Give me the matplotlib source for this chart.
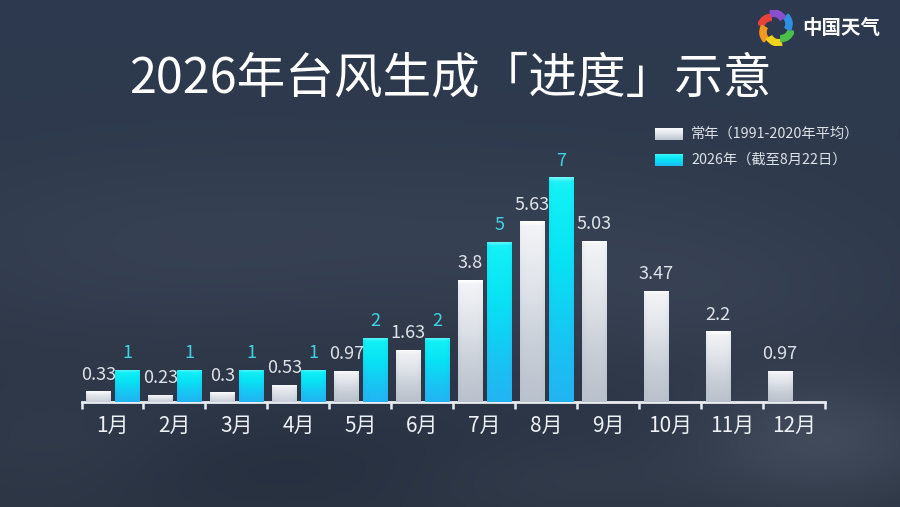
import numpy as np
import matplotlib
matplotlib.use("Agg")
import matplotlib.pyplot as plt
from matplotlib.patches import Wedge
from matplotlib.colors import LinearSegmentedColormap

plt.rcParams['font.family'] = ['Noto Sans CJK SC', 'DejaVu Sans']

# ---------------- data ----------------
months = ["1月", "2月", "3月", "4月", "5月", "6月", "7月", "8月", "9月", "10月", "11月", "12月"]
normal = [0.33, 0.23, 0.3, 0.53, 0.97, 1.63, 3.8, 5.63, 5.03, 3.47, 2.2, 0.97]
normal_labels = ["0.33", "0.23", "0.3", "0.53", "0.97", "1.63", "3.8", "5.63", "5.03", "3.47", "2.2", "0.97"]
y2026 = [1, 1, 1, 1, 2, 2, 5, 7]
title = "2026年台风生成「进度」示意"
legend_normal = "常年（1991-2020年平均）"
legend_2026 = "2026年（截至8月22日）"
brand = "中国天气"

W, H = 900, 507
fig = plt.figure(figsize=(W / 100, H / 100), dpi=100)

# ---------------- background ----------------
bg = fig.add_axes([0, 0, 1, 1])
bg.set_axis_off()
yy, xx = np.mgrid[0:H, 0:W]
top = np.array([46, 58, 79]) / 255
bot = np.array([44, 53, 68]) / 255
t = (yy / H)[..., None]
img = top * (1 - t) + bot * t
blobs = [  # (cx, cy, rx, ry, strength)
    (150, 250, 260, 90, 0.030),
    (520, 230, 300, 80, 0.025),
    (820, 440, 120, 60, 0.080),
    (700, 300, 200, 70, 0.030),
    (300, 470, 250, 50, -0.020),
    (60, 450, 120, 60, 0.020),
    (560, 480, 160, 40, 0.025),
]
for cx, cy, rx, ry, s in blobs:
    g = np.exp(-(((xx - cx) / rx) ** 2 + ((yy - cy) / ry) ** 2))
    img = img + s * g[..., None]
img = np.clip(img, 0, 1)
bg.imshow(img, extent=[0, 1, 0, 1], aspect='auto', zorder=0)
bg.set_xlim(0, 1)
bg.set_ylim(0, 1)

# ---------------- main axes ----------------
left_px, right_px = 81.5, 825.0
base_px = 402.0
ppu = 32.1
ymax = 8.0
ax = fig.add_axes([left_px / W, (H - base_px) / H, (right_px - left_px) / W, ymax * ppu / H])
ax.set_facecolor('none')

bw = 0.403
off_n = -0.226
off_c = 0.242
x = np.arange(len(months))
x26 = np.arange(len(y2026))

grey_cmap = LinearSegmentedColormap.from_list("g", ["#b9c1cc", "#c9cfd8", "#dfe3e9", "#f0f2f5", "#ffffff"])
cyan_cmap = LinearSegmentedColormap.from_list("c", ["#22b4f2", "#16c8f3", "#08e2f4", "#12f0f6", "#6ff8fa"])

def grad_bars(bars, cmap):
    for b in bars:
        x0, y0 = b.get_x(), b.get_y()
        w, h = b.get_width(), b.get_height()
        hp = max(h * ppu, 1.0)
        vert = np.linspace(0, 1, 128)[:, None]
        # bright cap at top (~4 px)
        cap = np.clip((vert * hp - (hp - 4)) / 4, 0, 1)
        base = vert * 0.8 if hp > 30 else vert * 0.5 + 0.25
        horiz = np.linspace(-1, 1, 32)[None, :]
        shade = base + 0.2 * cap - 0.10 * horiz ** 6
        im = ax.imshow(np.clip(shade, 0, 1), cmap=cmap, vmin=0, vmax=1, origin='lower',
                       extent=[x0, x0 + w, y0, y0 + h], aspect='auto', zorder=3,
                       interpolation='bilinear')
        im.set_clip_path(b)

bn = ax.bar(x + off_n, normal, width=bw, color="#c8ced8", zorder=2, linewidth=0)
bc = ax.bar(x26 + off_c, y2026, width=bw, color="#14d0f4", zorder=2, linewidth=0)
grad_bars(bn, grey_cmap)
grad_bars(bc, cyan_cmap)
ax.set_xlim(-0.5, len(months) - 0.5)
ax.set_ylim(0, ymax)

for xi, v, lab in zip(x, normal, normal_labels):
    ax.annotate(lab, (xi + off_n, v), xytext=(0, 5.5), textcoords='offset points',
                ha='center', va='bottom', fontsize=13, color="#dfe3e9", zorder=5)
for xi, v in zip(x26, y2026):
    ax.annotate(str(v), (xi + off_c, v), xytext=(0, 5.5), textcoords='offset points',
                ha='center', va='bottom', fontsize=13, color="#3fd3e6", zorder=5)

for s in ['top', 'right', 'left']:
    ax.spines[s].set_visible(False)
ax.spines['bottom'].set_color("#e9edf2")
ax.spines['bottom'].set_linewidth(2)
ax.set_yticks([])
ax.set_xticks(x)
ax.set_xticklabels(months, fontsize=15, color="#eef1f5")
ax.tick_params(axis='x', which='major', length=0, pad=9)
ax.set_xticks(np.arange(-0.5, len(months), 1.0), minor=True)
ax.tick_params(axis='x', which='minor', length=5, width=1.8, color="#e9edf2", direction='out')

# ---------------- title ----------------
fig.text(450 / W, 1 - 79 / H, title, ha='center', va='center', fontsize=35, color="white",
         fontweight='light')

# ---------------- legend ----------------
for i, (lab, cm) in enumerate([(legend_normal, grey_cmap), (legend_2026, cyan_cmap)]):
    yc = 134 + i * 26
    la = fig.add_axes([655 / W, 1 - (yc + 6) / H, 28 / W, 12 / H])
    la.set_axis_off()
    la.imshow(np.linspace(0, 1, 32)[:, None] * 0.8 + 0.1, cmap=cm, vmin=0, vmax=1,
              origin='lower', extent=[0, 1, 0, 1], aspect='auto')
    fig.text(691 / W, 1 - yc / H, lab, ha='left', va='center', fontsize=10.3, color="#dce1e7")

# ---------------- brand logo ----------------
lo = fig.add_axes([757 / W, 1 - 46 / H, 38 / W, 36 / H])
lo.set_axis_off()
lo.set_xlim(-1.05, 1.05)
lo.set_ylim(-1.05, 1.05)
lo.set_aspect('equal')
cols = ["#e8423a", "#f39a1e", "#f2d21c", "#4cbf4a", "#2f8fe0", "#8a4fd0"]
for k, c in enumerate(cols):
    a0 = 90 + k * 60
    lo.add_patch(Wedge((0.28 * np.cos(np.radians(a0 + 90)), 0.28 * np.sin(np.radians(a0 + 90))),
                       0.8, a0, a0 + 75, width=0.36, color=c))
fig.text(802 / W, 1 - 29 / H, brand, ha='left', va='center', fontsize=14, color="white",
         fontweight='bold')

fig.savefig("out.png", dpi=100)
